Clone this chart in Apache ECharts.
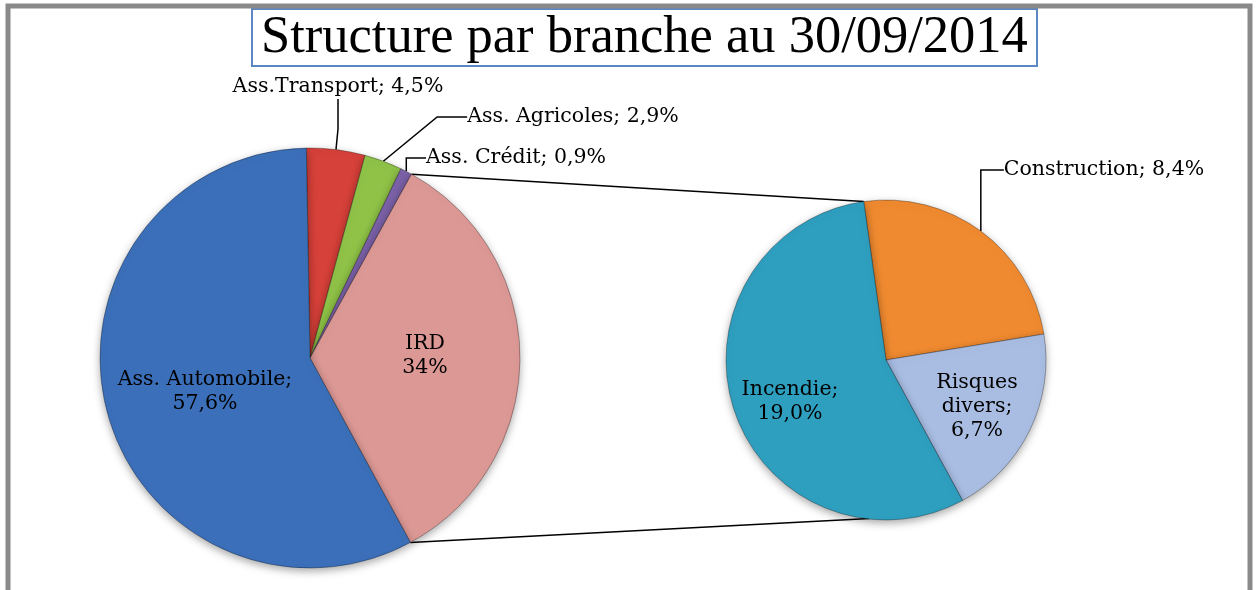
<!DOCTYPE html>
<html>
<head>
<meta charset="utf-8">
<script src="https://cdn.jsdelivr.net/npm/echarts@6/dist/echarts.min.js"></script>
<style>
  html, body { margin: 0; padding: 0; background: #fff; }
  #main { width: 1256px; height: 590px; }
</style>
</head>
<body>
<div id="main"></div>
<script>
// main pie: branches
var branches = ['Ass.Transport', 'Ass. Agricoles', 'Ass. Crédit', 'IRD', 'Ass. Automobile'];
var branchValues = [4.5, 2.9, 0.9, 34, 57.6];
var branchLabels = ['Ass.Transport; 4,5%', 'Ass. Agricoles; 2,9%', 'Ass. Crédit; 0,9%', 'IRD\n34%', 'Ass. Automobile;\n57,6%'];
var branchColors = ['#d6413a', '#8fc247', '#7b61a8', '#dc9895', '#3b6fb9'];
var branchInside = [false, false, false, true, true];

// second pie: detail of IRD
var ird = ['Construction', 'Risques divers', 'Incendie'];
var irdValues = [8.4, 6.7, 19.0];
var irdLabels = ['Construction; 8,4%', 'Risques\ndivers;\n6,7%', 'Incendie;\n19,0%'];
var irdColors = ['#ef8a30', '#a9bde3', '#2f9fbf'];
var irdInside = [false, true, true];

// label spots
var branchLabelPos = [[338, 87], [573, 117], [516, 158], [425, 356], [205, 392]];
var irdLabelPos = [[1104, 170], [977, 407], [790, 402]];

var myChart = echarts.init(document.getElementById('main'));

var font = '"DejaVu Serif", serif';

function pieData(names, values, labels, colors, inside) {
    return names.map(function (n, i) {
        return {
            name: n,
            value: values[i],
            label: {
                formatter: labels[i],
                position: inside[i] ? 'inside' : 'outside',
                overflow: 'none'
            },
            labelLine: { show: !inside[i] },
            itemStyle: { color: colors[i] }
        };
    });
}

function pieSeries(center, radius, startAngle, data, spots) {
    return {
        type: 'pie',
        center: center,
        radius: radius,
        startAngle: startAngle,
        data: data,
        itemStyle: {
            borderColor: 'rgba(0,0,0,0.3)',
            borderWidth: 1,
            shadowBlur: 8,
            shadowColor: 'rgba(0,0,0,0.35)',
            shadowOffsetY: 3
        },
        label: {
            fontFamily: font,
            fontSize: 20.5,
            color: '#000',
            lineHeight: 24,
            align: 'center'
        },
        labelLine: {
            lineStyle: { color: '#000', width: 1.5 }
        },
        labelLayout: function (p) {
            var pos = spots[p.dataIndex];
            return { x: pos[0], y: pos[1], align: 'center', verticalAlign: 'middle' };
        }
    };
}

myChart.setOption({
    animation: false,
    title: {
        text: 'Structure par branche au 30/09/2014',
        left: 252,
        top: 10,
        padding: [3, 9, 2, 9],
        borderColor: '#5b87c5',
        borderWidth: 2,
        textStyle: {
            fontFamily: '"Liberation Serif", serif',
            fontWeight: 'normal',
            fontSize: 52.5,
            lineHeight: 50,
            color: '#000'
        }
    },
    series: [
        pieSeries([310, 358], 210, 91, pieData(branches, branchValues, branchLabels, branchColors, branchInside), branchLabelPos),
        pieSeries([886, 360], 160, 98, pieData(ird, irdValues, irdLabels, irdColors, irdInside), irdLabelPos)
    ]
});

// connector lines between IRD slice and the second pie, from the layout
var mainData = myChart.getModel().getSeriesByIndex(0).getData();
var subData = myChart.getModel().getSeriesByIndex(1).getData();
var l = mainData.getItemLayout(3);
var s = subData.getItemLayout(0);
var p1 = [l.cx + l.r * Math.cos(l.startAngle), l.cy + l.r * Math.sin(l.startAngle)];
var p2 = [l.cx + l.r * Math.cos(l.endAngle), l.cy + l.r * Math.sin(l.endAngle)];
var q1 = [s.cx + s.r * Math.cos(s.startAngle), s.cy + s.r * Math.sin(s.startAngle)];
var q2 = [q1[0] + 6, 2 * s.cy - q1[1]];

myChart.setOption({
    graphic: [{
        type: 'rect',
        shape: { x: 8, y: 6, width: 1242, height: 600 },
        style: { fill: 'none', stroke: '#8a8a8a', lineWidth: 5 },
        z: 100
    }, {
        type: 'line',
        shape: { x1: p1[0], y1: p1[1], x2: q1[0], y2: q1[1] },
        style: { stroke: '#000', lineWidth: 1.5 },
        z: 1
    }, {
        type: 'line',
        shape: { x1: p2[0], y1: p2[1], x2: q2[0], y2: q2[1] },
        style: { stroke: '#000', lineWidth: 1.5 },
        z: 1
    }]
});
</script>
</body>
</html>
